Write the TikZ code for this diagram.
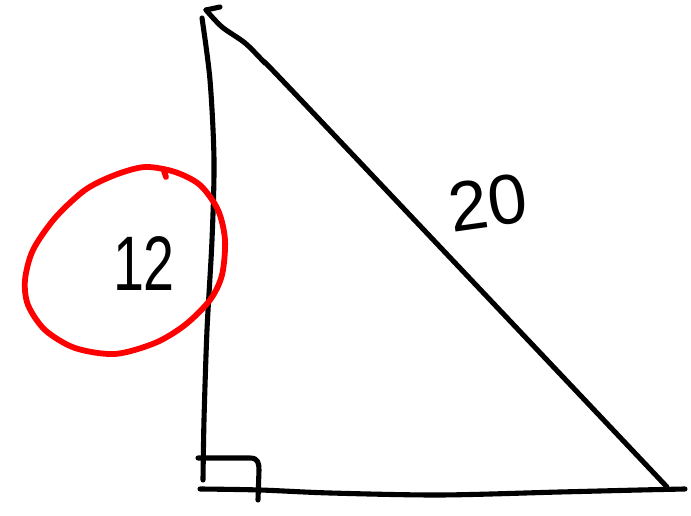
\documentclass[tikz,border=0pt]{standalone}
\usepackage{fontspec}
\setmainfont{Liberation Sans}
\usetikzlibrary{calc}
\colorlet{cpen}{black}
\colorlet{cmark}{red}
\tikzset{pen/.style={cpen,line width=2.9pt,line cap=round,line join=round},
  ring/.style={cmark,line width=3.3pt,line cap=round,line join=round}}

\begin{document}
\begin{tikzpicture}[x=0.02cm,y=-0.02cm]
\useasboundingbox (0,0) rectangle (691,516);
% triangle sides
\draw[pen] plot[smooth] coordinates {(202,18) (210,80) (214,160) (212,240) (207,330) (204,420) (203,480)};
\draw[pen] (220,7) -- (206,10);
\draw[pen] plot[smooth] coordinates {(206,10) (222,27) (245,43) (264,62) (300,99) (667,487)};
\draw[pen] plot[smooth] coordinates {(200,489) (260,490) (330,493) (440,495) (560,492) (640,490) (685,489)};
% right angle mark
\draw[pen] (198,458) -- (250,458) .. controls (258,458) and (259,463) .. (259,470) -- (258,500);
% side labels
\node[font=\fontsize{44}{44}\selectfont,xscale=0.72,inner sep=0pt] (short) at (144,264) {12};
\node[font=\fontsize{40}{40}\selectfont,rotate=8,inner sep=0pt] (long) at (488,203) {20};
% red ring round the short side
\draw[ring] plot[smooth cycle] coordinates {(145,167) (175,172) (200,185) (218,210) (225,240) (222,275) (210,300) (185,325) (155,343) (115,354) (75,348) (45,330) (28,305) (25,280) (33,250) (55,218) (85,190) (115,175)};
\draw[ring] (164,171) -- (166,177);
\end{tikzpicture}
\end{document}
